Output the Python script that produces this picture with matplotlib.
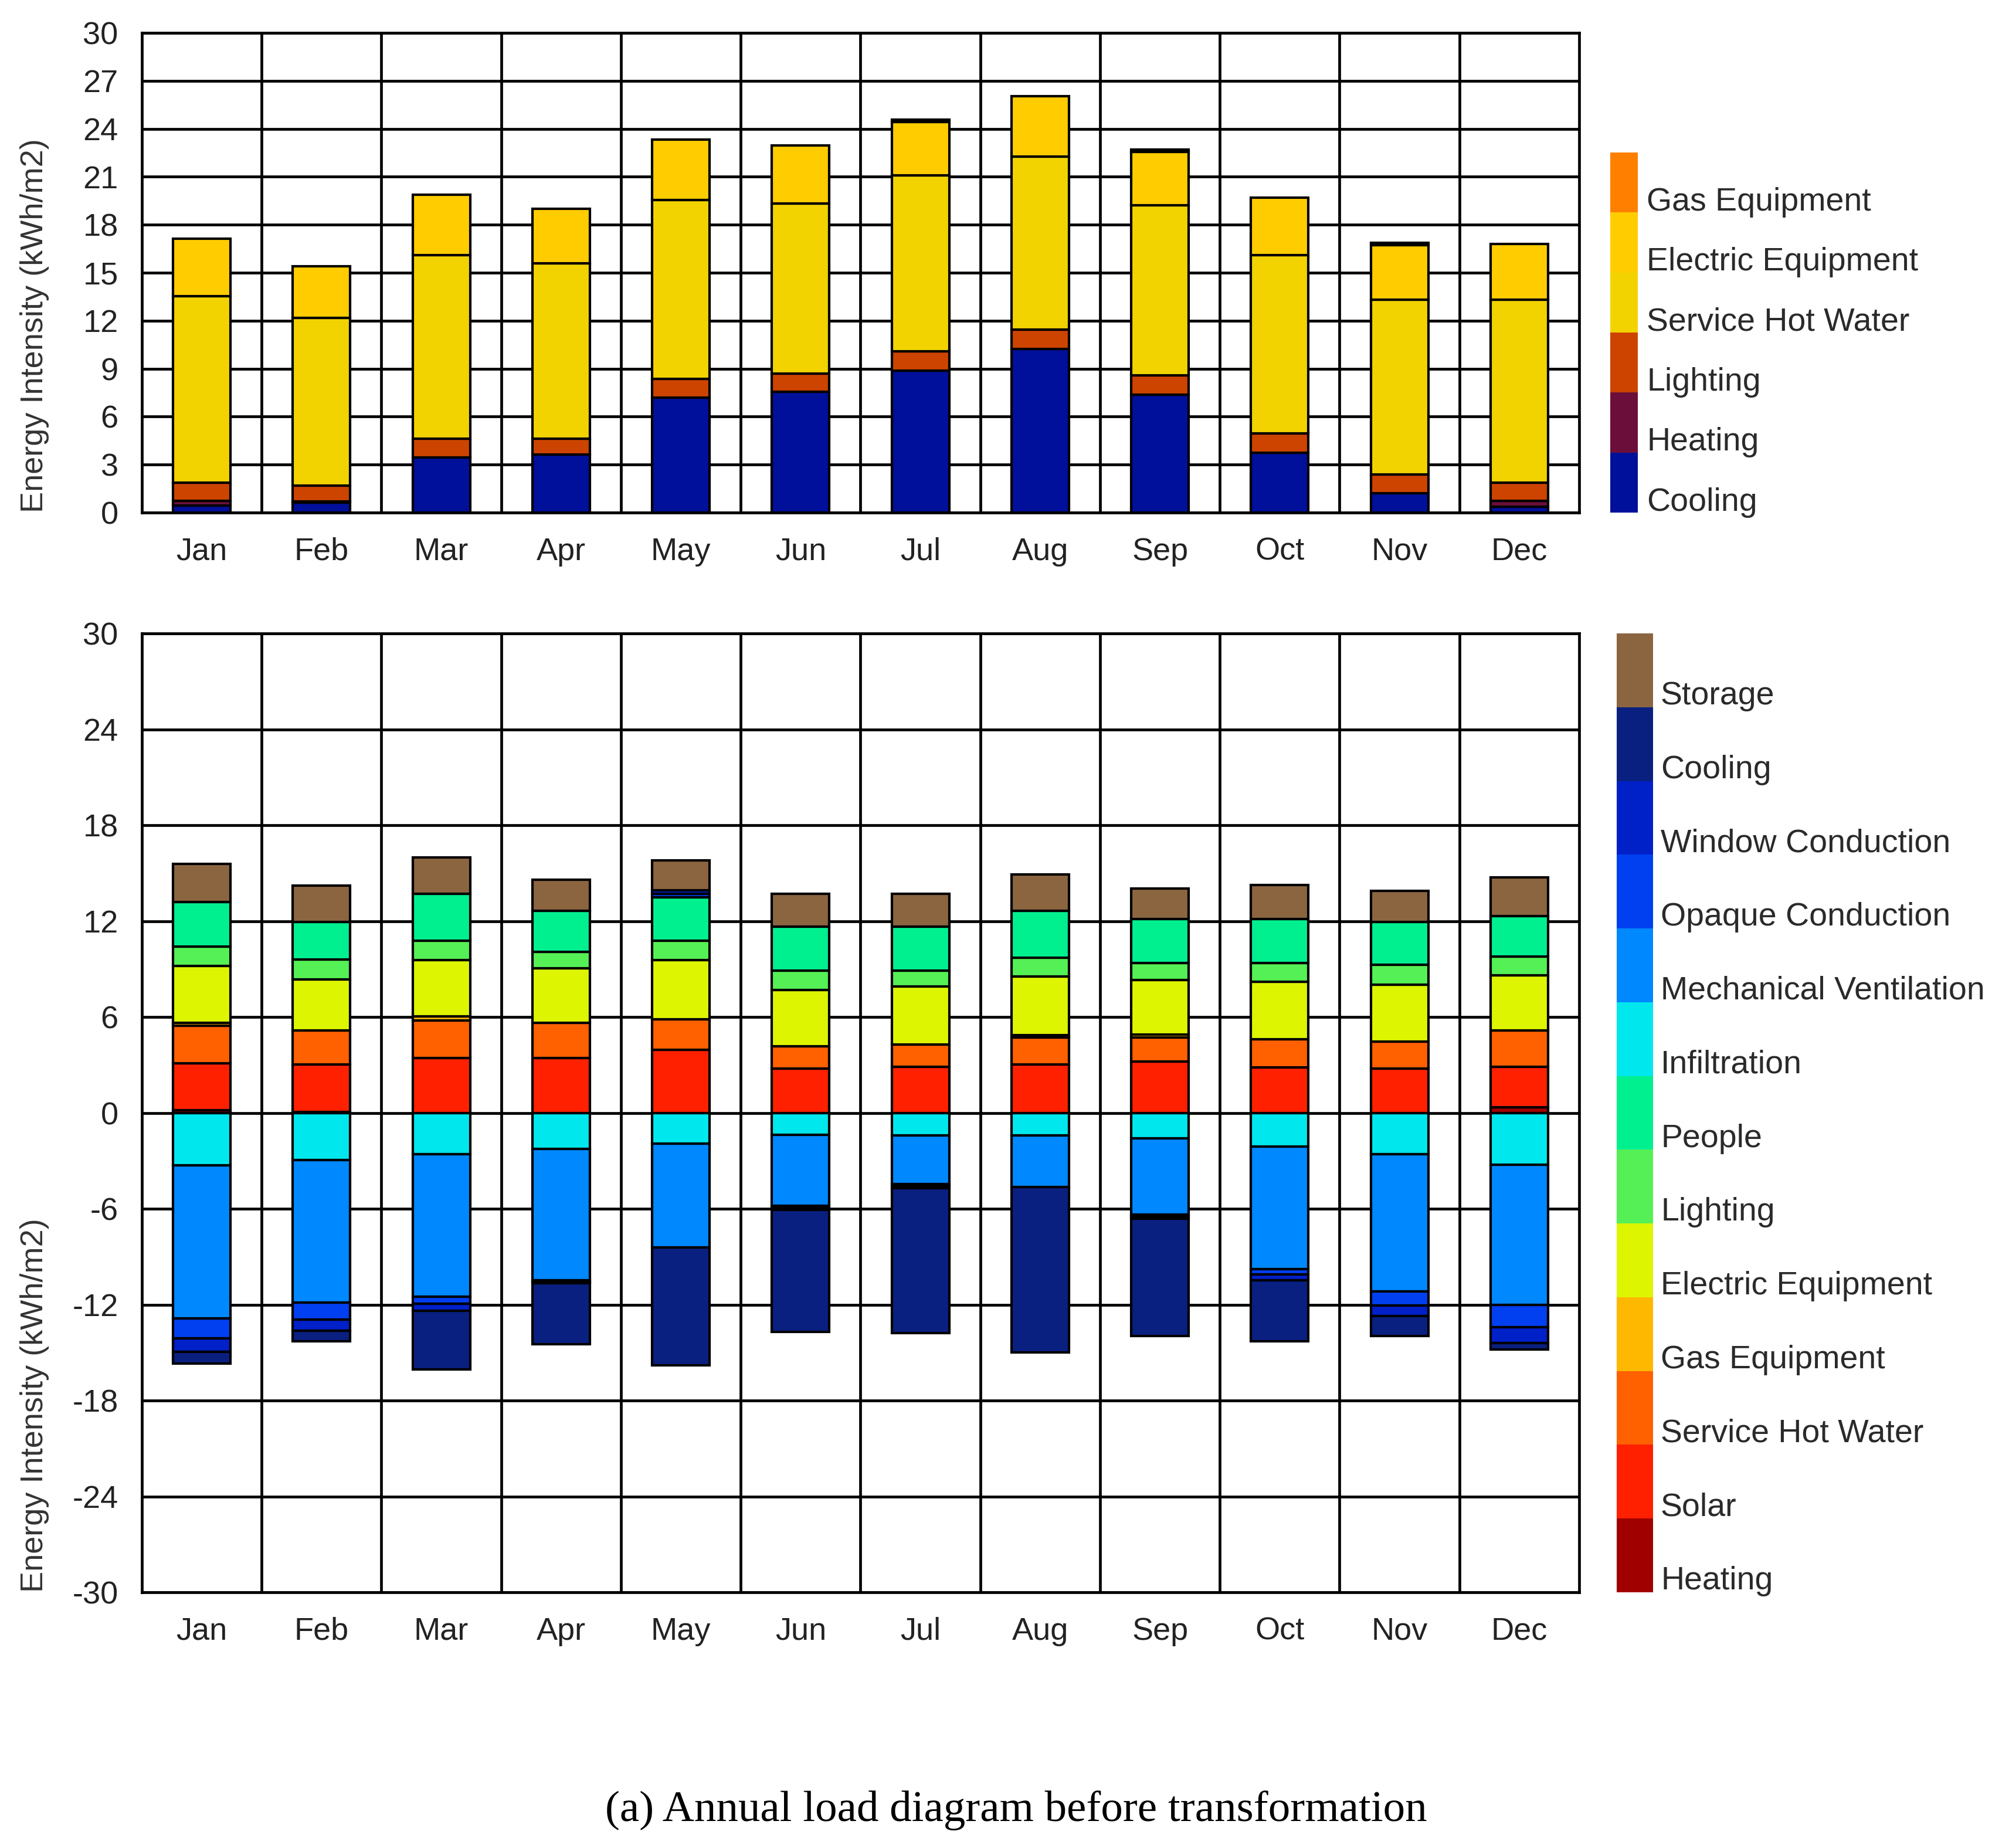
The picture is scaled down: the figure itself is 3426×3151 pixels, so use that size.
import matplotlib
matplotlib.use("Agg")
import matplotlib.pyplot as plt
import numpy as np
from matplotlib.transforms import blended_transform_factory

plt.rcParams["axes.unicode_minus"] = False

# ---------------- data ----------------
months = ["Jan", "Feb", "Mar", "Apr", "May", "Jun", "Jul", "Aug", "Sep", "Oct", "Nov", "Dec"]

# Top chart (stack order bottom -> top)
top_categories = ["Cooling", "Heating", "Lighting", "Service Hot Water",
                  "Electric Equipment", "Gas Equipment"]
top_colors = ["#00109A", "#6B0F3A", "#CC4400", "#F2D300", "#FFCC00", "#FF7F00"]
top_cooling = [0.45, 0.62, 3.46, 3.62, 7.20, 7.55, 8.89, 10.24, 7.37, 3.74, 1.22, 0.38]
top_heating = [0.30, 0.08, 0.00, 0.00, 0.00, 0.00, 0.00, 0.00, 0.00, 0.00, 0.00, 0.35]
top_lighting = [1.12, 0.98, 1.17, 1.01, 1.17, 1.15, 1.21, 1.22, 1.21, 1.22, 1.17, 1.14]
top_shw = [11.65, 10.48, 11.46, 10.95, 11.16, 10.64, 10.99, 10.80, 10.62, 11.13, 10.94, 11.46]
top_elec = [3.62, 3.25, 3.79, 3.43, 3.79, 3.63, 3.35, 3.77, 3.37, 3.60, 3.39, 3.46]
top_gas = [0.00, 0.00, 0.00, 0.00, 0.00, 0.00, 0.15, 0.00, 0.15, 0.00, 0.15, 0.00]
top_values = [top_cooling, top_heating, top_lighting, top_shw, top_elec, top_gas]

# Bottom chart (legend order bottom -> top; signed values)
bot_categories = ["Heating", "Solar", "Service Hot Water", "Gas Equipment",
                  "Electric Equipment", "Lighting", "People", "Infiltration",
                  "Mechanical Ventilation", "Opaque Conduction", "Window Conduction",
                  "Cooling", "Storage"]
bot_colors = ["#A00000", "#FF2000", "#FF6000", "#FFB800", "#DDF500", "#55F055",
              "#00F090", "#00E8EE", "#0088FF", "#0040F0", "#0020C8", "#0A2080",
              "#8B6540"]
b_heating = [0.15, 0.05, 0.00, 0.00, 0.00, 0.00, 0.00, 0.00, 0.00, 0.00, 0.00, 0.35]
b_solar = [2.95, 2.99, 3.44, 3.44, 3.93, 2.76, 2.88, 3.04, 3.21, 2.86, 2.76, 2.53]
b_shw = [2.35, 2.11, 2.34, 2.18, 1.92, 1.39, 1.41, 1.66, 1.52, 1.75, 1.69, 2.27]
b_gas = [0.20, 0.00, 0.26, 0.00, 0.00, 0.00, 0.00, 0.18, 0.18, 0.00, 0.00, 0.00]
b_elec = [3.55, 3.21, 3.52, 3.44, 3.71, 3.53, 3.60, 3.67, 3.40, 3.59, 3.58, 3.44]
b_lighting = [1.22, 1.22, 1.21, 1.03, 1.21, 1.22, 1.01, 1.17, 1.06, 1.17, 1.22, 1.18]
b_people = [2.76, 2.36, 2.93, 2.56, 2.70, 2.74, 2.74, 2.93, 2.76, 2.76, 2.69, 2.53]
b_infiltration = [-3.28, -2.95, -2.58, -2.27, -1.92, -1.36, -1.41, -1.41, -1.59, -2.11, -2.58, -3.23]
b_mechvent = [-9.60, -8.92, -8.94, -8.20, -6.51, -4.45, -3.04, -3.23, -4.78, -7.66, -8.59, -8.78]
b_opaque = [-1.24, -1.06, -0.42, -0.10, 0.23, -0.14, -0.14, 0.00, -0.12, -0.35, -0.89, -1.39]
b_window = [-0.82, -0.70, -0.43, -0.10, 0.23, -0.14, -0.14, 0.00, -0.12, -0.37, -0.66, -1.00]
b_cooling = [-0.75, -0.66, -3.67, -3.80, -7.38, -7.61, -9.04, -10.35, -7.37, -3.80, -1.26, -0.40]
b_storage = [2.39, 2.28, 2.27, 1.92, 1.88, 2.06, 2.06, 2.27, 1.92, 2.11, 1.95, 2.45]
bot_values = [b_heating, b_solar, b_shw, b_gas, b_elec, b_lighting, b_people,
              b_infiltration, b_mechvent, b_opaque, b_window, b_cooling, b_storage]

top_yticks = list(range(0, 31, 3))
bot_yticks = list(range(-30, 31, 6))
ylabel = "Energy Intensity (kWh/m2)"
caption = "(a) Annual load diagram before transformation"

# ---------------- style ----------------
W, H = 3426, 3151
DPI = 100
fig = plt.figure(figsize=(W / DPI, H / DPI), dpi=DPI)
fig.patch.set_facecolor("white")

SANS = ["Liberation Sans", "DejaVu Sans"]
TXT = "#222222"
GRID_LW = 3.4
EDGE_LW = 3.0
BAR_W = 0.48


def fr(x0, y0, x1, y1):
    return [x0 / W, 1 - y1 / H, (x1 - x0) / W, (y1 - y0) / H]


def style_axes(ax, yticks, ylim):
    x = np.arange(len(months))
    ax.set_xlim(-0.5, len(months) - 0.5)
    ax.set_ylim(*ylim)
    ax.set_yticks(yticks)
    ax.set_xticks(x)
    ax.set_xticklabels(months)
    ax.set_xticks(np.arange(len(months) - 1) + 0.5, minor=True)
    ax.grid(True, which="major", axis="y", color="black", lw=GRID_LW)
    ax.grid(True, which="minor", axis="x", color="black", lw=GRID_LW)
    ax.set_axisbelow(True)
    ax.tick_params(which="both", length=0)
    ax.tick_params(axis="y", pad=29, labelsize=39, labelcolor=TXT)
    ax.tick_params(axis="x", pad=30, labelsize=39, labelcolor=TXT)
    for lab in ax.get_xticklabels() + ax.get_yticklabels():
        lab.set_family(SANS)
    for s in ax.spines.values():
        s.set_linewidth(GRID_LW)
        s.set_color("black")
    ax.text(-0.0747, 0.0, ylabel, rotation=90, va="bottom", ha="center",
            transform=ax.transAxes, fontsize=39, color="#333333", family=SANS)


def legend_axes(rect, cats, colors, label_x, label_dy):
    lax = fig.add_axes(rect)
    n = len(cats)
    for i, (c, col) in enumerate(zip(cats, colors)):
        lax.bar(0, 1, bottom=i, width=1, color=col, edgecolor="none")
    lax.set_xlim(-0.5, 0.5)
    lax.set_ylim(0, n)
    lax.axis("off")
    tr = blended_transform_factory(lax.transAxes, lax.transData)
    for i, c in enumerate(cats):
        lax.text(label_x, i + label_dy, c, transform=tr, va="center", ha="left",
                 fontsize=40, color="#2a2a2a", family=SANS)
    return lax


x = np.arange(len(months))

# ---------------- top chart ----------------
ax1 = fig.add_axes(fr(242, 56, 2693, 874))
bottom = np.zeros(len(months))
for vals, col in zip(top_values, top_colors):
    v = np.array(vals, dtype=float)
    m = v > 0
    ax1.bar(x[m], v[m], bottom=bottom[m], width=BAR_W, color=col,
            edgecolor="black", linewidth=EDGE_LW, zorder=3)
    bottom = bottom + v
style_axes(ax1, top_yticks, (0, 30))

legend_axes(fr(2746, 260, 2793, 874), top_categories, top_colors, 1.32, 0.17)

# ---------------- bottom chart ----------------
ax2 = fig.add_axes(fr(242, 1080, 2693, 2715))
pos = np.zeros(len(months))
neg = np.zeros(len(months))
for vals, col in zip(bot_values, bot_colors):
    v = np.array(vals, dtype=float)
    mp = v > 0
    mn = v < 0
    if mp.any():
        ax2.bar(x[mp], v[mp], bottom=pos[mp], width=BAR_W, color=col,
                edgecolor="black", linewidth=EDGE_LW, zorder=3)
    if mn.any():
        ax2.bar(x[mn], v[mn], bottom=neg[mn], width=BAR_W, color=col,
                edgecolor="black", linewidth=EDGE_LW, zorder=3)
    pos = pos + np.where(mp, v, 0)
    neg = neg + np.where(mn, v, 0)
style_axes(ax2, bot_yticks, (-30, 30))

legend_axes(fr(2757, 1080, 2819, 2715), bot_categories, bot_colors, 1.21, 0.15)

# ---------------- caption ----------------
fig.text(1733 / W, 1 - 3087 / H, caption, ha="center", va="center", fontsize=54,
         color="black", family=["Liberation Serif", "DejaVu Serif"])

fig.savefig("out.png", dpi=DPI, facecolor="white")
